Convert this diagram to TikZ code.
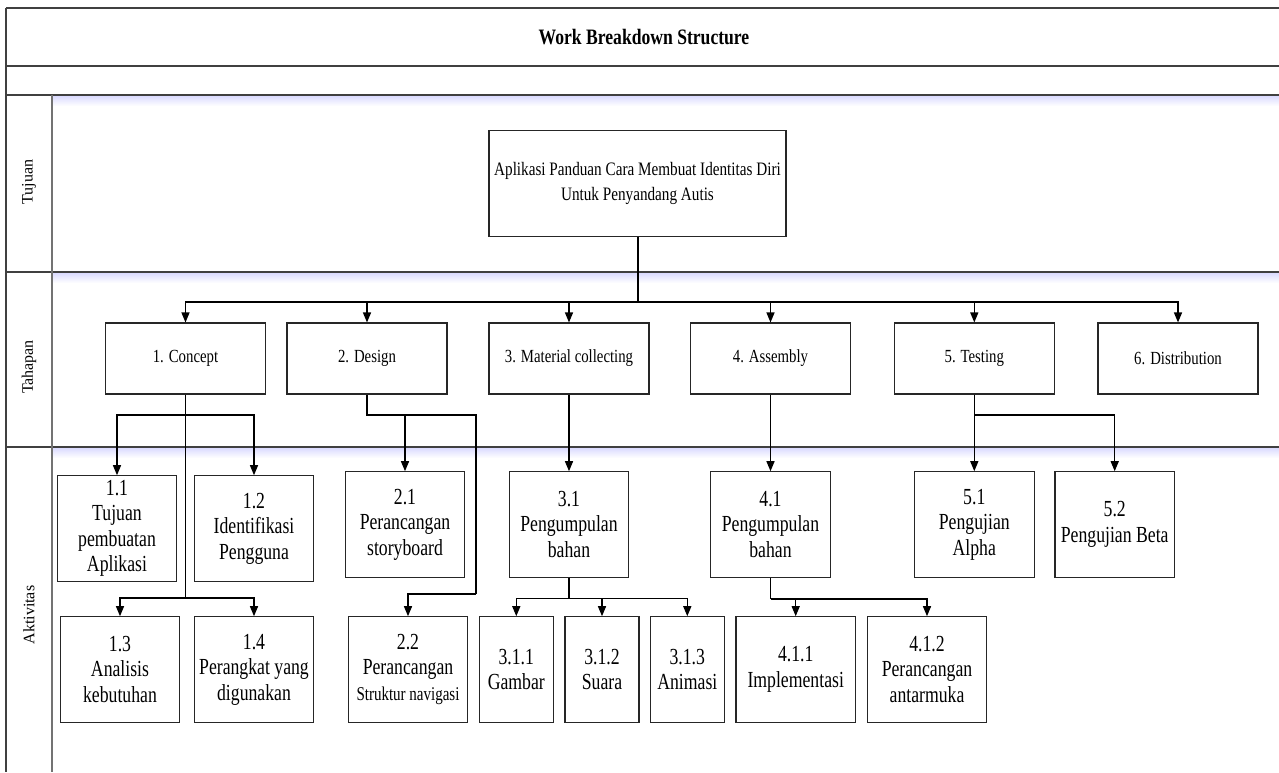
\documentclass[tikz,border=0pt]{standalone}
\usepackage{fontspec}
\setmainfont{Liberation Serif}[FakeStretch=0.8]
\newfontfamily\leaffont{Liberation Serif}[FakeStretch=0.77]
\newfontfamily\lanefont{Liberation Serif}
\usetikzlibrary{arrows.meta}
\begin{document}
\begin{tikzpicture}[x=1pt,y=-1pt,
  box/.style={draw=black!85,line width=1.1pt,inner sep=0pt,align=center,fill=white},
  lvone/.style={box,minimum width=160pt,minimum height=71pt,font=\fontsize{18.5}{22}\selectfont},
  leaf/.style={box,minimum width=119.5pt,minimum height=105.3pt,font=\leaffont\fontsize{23}{25.5}\selectfont},
  leafs/.style={leaf,minimum width=74pt},
  conn/.style={line width=1.3pt,black},
  arr/.style={conn,-{Triangle[width=8pt,length=10pt]}},
  laneline/.style={line width=1.6pt,black!75},
  lanelabel/.style={rotate=90,font=\lanefont\fontsize{16}{19}\selectfont},
]
\useasboundingbox (0,0) rectangle (1279,772);
\fill[white] (0,0) rectangle (1279,772);

% shading under lane lines
\shade[top color=blue!14,bottom color=white] (52,96) rectangle (1279,106);
\shade[top color=blue!14,bottom color=white] (52,273) rectangle (1279,283);
\shade[top color=blue!14,bottom color=white] (52,448) rectangle (1279,458);

% frame
\draw[laneline] (6,8) -- (1279,8);
\draw[laneline] (6,66) -- (1279,66);
\draw[laneline] (6,95) -- (1279,95);
\draw[laneline] (6,272) -- (1279,272);
\draw[laneline] (6,447) -- (1279,447);
\draw[laneline] (6,8) -- (6,772);
\draw[line width=1.4pt,black!55] (52,95) -- (52,772);

% title and lane labels
\node[font=\fontsize{22}{26}\selectfont\bfseries,anchor=base] (title) at (644,44) {Work Breakdown Structure};
\node[lanelabel] (ltujuan) at (29,182) {Tujuan};
\node[lanelabel] (ltahapan) at (29,367) {Tahapan};
\node[lanelabel] (laktivitas) at (29,615) {Aktivitas};

% root
\node[box,minimum width=297pt,minimum height=105.5pt,font=\fontsize{19}{25.5}\selectfont] (root) at (637.5,183.3)
  {Aplikasi Panduan Cara Membuat Identitas Diri\\Untuk Penyandang Autis};

% level 1
\node[lvone] (c1) at (185.5,358.5) {1. Concept};
\node[lvone] (c2) at (367,358.5) {2. Design};
\node[lvone] (c3) at (569,358.5) {3. Material collecting};
\node[lvone] (c4) at (770.5,358.5) {4. Assembly};
\node[lvone] (c5) at (974.3,358.5) {5. Testing};
\node[lvone] (c6) at (1178,358.5) {6. Distribution};

% activities row A
\node[leaf] (a11) at (117,528.4) {1.1\\Tujuan\\pembuatan\\Aplikasi};
\node[leaf] (a12) at (254,528.4) {1.2\\Identifikasi\\Pengguna};
\node[leaf] (a21) at (405,524.4) {2.1\\Perancangan\\storyboard};
\node[leaf] (a31) at (569,524.4) {3.1\\Pengumpulan\\bahan};
\node[leaf] (a41) at (770.5,524.4) {4.1\\Pengumpulan\\bahan};
\node[leaf] (a51) at (974.3,524.4) {5.1\\Pengujian\\Alpha};
\node[leaf] (a52) at (1114.7,524.4) {5.2\\Pengujian Beta};

% activities row B
\node[leaf] (a13) at (120,669.4) {1.3\\Analisis\\kebutuhan};
\node[leaf] (a14) at (254,669.4) {1.4\\Perangkat yang\\digunakan};
\node[leaf] (a22) at (408,669.4) {2.2\\Perancangan\\{\fontsize{19.5}{25.5}\selectfont Struktur navigasi}};
\node[leafs] (a311) at (516.3,669.4) {3.1.1\\Gambar};
\node[leafs] (a312) at (602,669.4) {3.1.2\\Suara};
\node[leafs] (a313) at (687.3,669.4) {3.1.3\\Animasi};
\node[leaf] (a411) at (795.7,669.4) {4.1.1\\Implementasi};
\node[leaf] (a412) at (927,669.4) {4.1.2\\Perancangan\\antarmuka};

% root connectors
\coordinate (rb) at (637.5,302);
\draw[conn,line width=2pt] (root.south) -- (rb);
\foreach \n in {c1,c2,c3,c4,c5,c6} \draw[arr] (rb) -| (\n.north);

% concept
\coordinate (cb1) at (185.5,415);
\coordinate (cb2) at (185.5,598);
\draw[conn] (c1.south) -- (cb2);
\draw[arr] (cb1) -| (a11.north);
\draw[arr] (cb1) -| (a12.north);
\draw[arr] (cb2) -| (a13.north);
\draw[arr] (cb2) -| (a14.north);

% design
\coordinate (db1) at (367,415);
\coordinate (db2) at (476,415);
\coordinate (db3) at (476,594);
\draw[conn] (c2.south) -- (db1) -- (db2) -- (db3);
\draw[arr] (db1) -| (a21.north);
\draw[arr] (db3) -| (a22.north);

% material collecting
\draw[arr] (c3.south) -- (a31.north);
\coordinate (mb) at (569,598.3);
\draw[conn] (a31.south) -- (mb);
\draw[arr] (mb) -| (a311.north);
\draw[arr] (mb) -| (a312.north);
\draw[arr] (mb) -| (a313.north);

% assembly
\draw[arr] (c4.south) -- (a41.north);
\coordinate (ab) at (770.5,599);
\draw[conn] (a41.south) -- (ab);
\draw[arr] (ab) -| (a411.north);
\draw[arr] (ab) -| (a412.north);

% testing
\coordinate (tb) at (974.3,415);
\draw[conn] (c5.south) -- (tb);
\draw[arr] (tb) -| (a51.north);
\draw[arr] (tb) -| (a52.north);
\end{tikzpicture}
\end{document}
